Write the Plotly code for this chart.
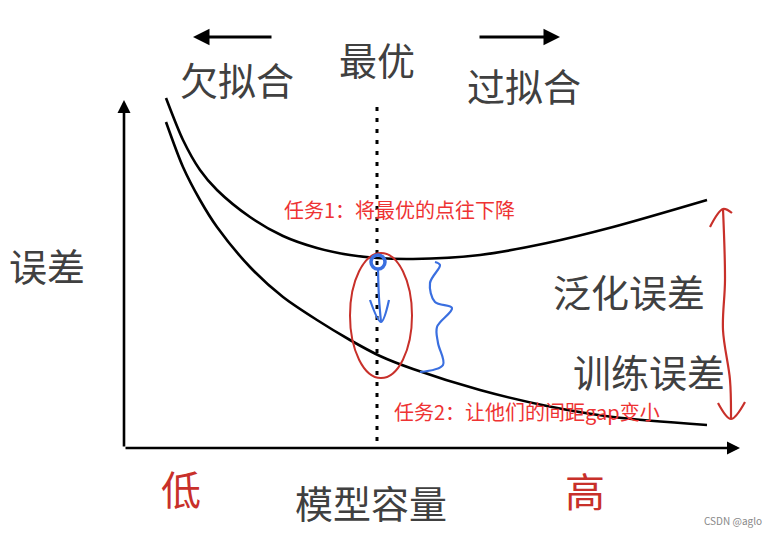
import plotly.graph_objects as go

# ---- data (capacity along x, error above the x-axis) ----
capacity = [42, 59, 76, 93, 126, 159, 193, 226, 253, 289, 356, 423, 489, 583]
gen_error = [350, 308, 278, 258, 231, 212, 200, 193, 190, 189, 193, 205, 221, 248]
train_capacity = [42, 59, 76, 93, 126, 159, 193, 226, 256, 289, 356, 423, 489, 583]
train_error = [326, 281, 248, 221, 181, 151, 128, 108, 92, 79, 58, 42, 31, 23]

optimum_capacity = 253
axis_x_end = 616
axis_y_end = 348

# hand-drawn marks
brace_x = [311, 316, 306, 311, 328, 313, 314, 319, 296]
brace_y = [186, 183, 165, 146, 140, 121, 105, 83, 76]
red_arrow_x = [599, 601, 599, 606, 607]
red_arrow_y = [239, 168, 118, 68, 30]
red_top_head_x = [586, 599, 608]
red_top_head_y = [221, 239, 235]
red_bot_head_x = [594, 607, 621]
red_bot_head_y = [45, 29, 46]
blue_arrow_x = [254, 255, 257]
blue_arrow_y = [180, 150, 126]
blue_head_x = [246, 257, 265]
blue_head_y = [148, 126, 148]

GRAY = "#404040"
RED = "#ee3333"
HRED = "#c8302a"
BLUE = "#3a6fe0"
FONT = "Noto Sans CJK SC"

fig = go.Figure()

fig.add_trace(go.Scatter(x=capacity, y=gen_error, mode="lines",
                         line=dict(color="black", width=2.6, shape="spline", smoothing=0.8),
                         hoverinfo="skip"))
fig.add_trace(go.Scatter(x=train_capacity, y=train_error, mode="lines",
                         line=dict(color="black", width=2.6, shape="spline", smoothing=0.8),
                         hoverinfo="skip"))
# optimum dotted line
fig.add_trace(go.Scatter(x=[optimum_capacity, optimum_capacity], y=[341, 0], mode="lines",
                         line=dict(color="black", width=3, dash="4px,7px"),
                         hoverinfo="skip"))

# blue marks
fig.add_trace(go.Scatter(x=brace_x, y=brace_y, mode="lines",
                         line=dict(color=BLUE, width=2.2, shape="spline"), hoverinfo="skip"))
fig.add_trace(go.Scatter(x=blue_arrow_x, y=blue_arrow_y, mode="lines",
                         line=dict(color=BLUE, width=2.2, shape="spline"), hoverinfo="skip"))
fig.add_trace(go.Scatter(x=blue_head_x, y=blue_head_y, mode="lines",
                         line=dict(color=BLUE, width=2.2, shape="spline"), hoverinfo="skip"))

# red double arrow
fig.add_trace(go.Scatter(x=red_arrow_x, y=red_arrow_y, mode="lines",
                         line=dict(color=HRED, width=2.2, shape="spline"), hoverinfo="skip"))
fig.add_trace(go.Scatter(x=red_top_head_x, y=red_top_head_y, mode="lines",
                         line=dict(color=HRED, width=2.2, shape="spline"), hoverinfo="skip"))
fig.add_trace(go.Scatter(x=red_bot_head_x, y=red_bot_head_y, mode="lines",
                         line=dict(color=HRED, width=2.2, shape="spline"), hoverinfo="skip"))

shapes = [
    dict(type="circle", xref="x", yref="y", x0=226, x1=288, y0=70, y1=195,
         line=dict(color=HRED, width=2)),
    dict(type="circle", xref="x", yref="y", x0=247, x1=261, y0=179, y1=193,
         line=dict(color=BLUE, width=3.5)),
]

annotations = []
def arrow(x0, y0, x1, y1, w=2.6, size=1.0, head=2):
    annotations.append(dict(x=x1, y=y1, ax=x0, ay=y0, xref="x", yref="y",
                            axref="x", ayref="y", showarrow=True, text="",
                            arrowhead=head, arrowsize=size, arrowwidth=w,
                            arrowcolor="black"))

arrow(0, 0, 0, axis_y_end)
arrow(0, 0, axis_x_end, 0)
arrow(149, 411, 69, 411, w=3, size=1.1)
arrow(354, 411, 436, 411, w=3, size=1.1)

def txt(x, y, s, size=38, color=GRAY):
    annotations.append(dict(x=x, y=y, xref="x", yref="y", text=s, showarrow=False,
                            font=dict(family=FONT, size=size, color=color),
                            xanchor="center", yanchor="middle"))

txt(113, 370, "欠拟合")
txt(253, 390, "最优")
txt(400, 364, "过拟合")
txt(-77, 184, "误差")
txt(505, 158, "泛化误差")
txt(525, 78, "训练误差")
txt(247, -53, "模型容量")
txt(275, 239, "任务1：将最优的点往下降", size=20, color=RED)
txt(403, 37, "任务2：让他们的间距gap变小", size=20, color=RED)
txt(57, -40, "低", size=40, color=HRED)
txt(461, -42, "高", size=40, color=HRED)
txt(609, -72, "CSDN @aglo", size=10, color="#888888")

# the page body adds an 8px offset; ranges compensate so marks land in place
fig.update_layout(
    width=776, height=534,
    margin=dict(l=0, r=0, t=0, b=0),
    paper_bgcolor="white", plot_bgcolor="white",
    showlegend=False,
    xaxis=dict(range=[-116, 660], visible=False, domain=[0, 1], fixedrange=True),
    yaxis=dict(range=[-94, 440], visible=False, domain=[0, 1], fixedrange=True),
    shapes=shapes,
    annotations=annotations,
)

fig.write_html("out.html")
